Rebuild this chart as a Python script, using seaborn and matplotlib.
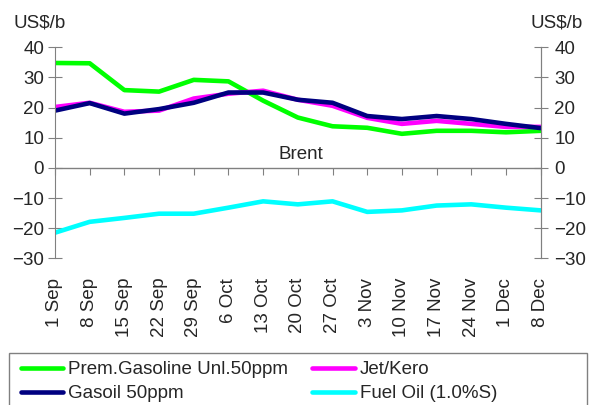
import pandas as pd
import seaborn as sns
import matplotlib.pyplot as plt
from matplotlib.patches import Rectangle

dates = ['1 Sep', '8 Sep', '15 Sep', '22 Sep', '29 Sep', '6 Oct', '13 Oct', '20 Oct',
         '27 Oct', '3 Nov', '10 Nov', '17 Nov', '24 Nov', '1 Dec', '8 Dec']
gasoline = [34.8, 34.7, 25.8, 25.3, 29.2, 28.7, 22.3, 16.7, 13.8, 13.3, 11.3, 12.3, 12.3, 11.8, 12.3]
jet_kero = [20.2, 21.6, 18.6, 19.0, 23.0, 24.6, 25.6, 22.6, 20.6, 16.6, 14.6, 15.6, 14.6, 13.6, 13.6]
gasoil = [19.0, 21.5, 18.0, 19.5, 21.6, 25.0, 25.0, 22.6, 21.6, 17.2, 16.2, 17.2, 16.2, 14.6, 13.2]
fuel_oil = [-21.5, -17.9, -16.6, -15.2, -15.2, -13.2, -11.1, -12.1, -11.1, -14.6, -14.1, -12.5, -12.1, -13.2, -14.1]

names = ['Prem.Gasoline Unl.50ppm', 'Jet/Kero', 'Gasoil 50ppm', 'Fuel Oil (1.0%S)']
colors = ['#00ff00', '#ff00ff', '#000080', '#00ffff']

rows = []
for name, vals in zip(names, [gasoline, jet_kero, gasoil, fuel_oil]):
    for i, v in enumerate(vals):
        rows.append({'x': i, 'value': v, 'product': name})
df = pd.DataFrame(rows)

sns.set_style('white')
plt.rcParams['font.family'] = ['Liberation Sans', 'DejaVu Sans']
fs = 13.5
grey = '#808080'

fig = plt.figure(figsize=(5.92, 4.05), dpi=100)
ax = fig.add_axes([0.0929, 0.3622, 0.8204, 0.521])

sns.lineplot(data=df, x='x', y='value', hue='product', hue_order=names,
             palette=colors, linewidth=3.3, ax=ax, legend=True)

ax.set_xlim(0, len(dates) - 1)
ax.set_ylim(-30, 40)
ax.set_yticks(range(-30, 41, 10))
ax.set_xticks(range(len(dates)))
ax.set_xticklabels(dates, rotation=90, fontsize=fs)
ax.set_xlabel('')
ax.set_ylabel('')
ax.tick_params(axis='x', length=0, pad=14)
ax.tick_params(axis='y', direction='inout', length=9.6, color=grey, labelsize=fs, pad=3)
for s in ['top', 'bottom']:
    ax.spines[s].set_visible(False)
for s in ['left', 'right']:
    ax.spines[s].set_color(grey)

# zero line with its tick marks
ax.axhline(0, color=grey, linewidth=1, zorder=1)
sec = ax.secondary_xaxis(30 / 70)
sec.set_xticks(range(len(dates)))
sec.tick_params(axis='x', direction='out', length=5, color=grey, labelbottom=False)
sec.spines['bottom'].set_visible(False)

ax2 = ax.twinx()
ax2.set_ylim(-30, 40)
ax2.set_yticks(range(-30, 41, 10))
ax2.tick_params(axis='y', direction='inout', length=9.6, color=grey, labelsize=fs, pad=5)
for s in ['top', 'bottom', 'left']:
    ax2.spines[s].set_visible(False)
ax2.spines['right'].set_color(grey)

ax.text(7.1, 4.5, 'Brent', ha='center', va='center', fontsize=fs)
fig.text(0.022, 0.944, 'US$/b', ha='left', va='center', fontsize=fs)
fig.text(0.985, 0.944, 'US$/b', ha='right', va='center', fontsize=fs)

handles, labels = ax.get_legend_handles_labels()
order = [0, 2, 1, 3]
leg = ax.legend([handles[i] for i in order], [labels[i] for i in order], ncol=2,
                loc='upper left', bbox_to_anchor=(0.035, 0.1086),
                bbox_transform=fig.transFigure, borderaxespad=0, borderpad=0,
                fontsize=fs, frameon=False,
                handlelength=2.27, handletextpad=0.27, labelspacing=0.37,
                columnspacing=1.26)
for line in leg.get_lines():
    line.set_linewidth(3.3)
fig.patches.append(Rectangle((8.5 / 592, -0.05), 578.5 / 592, 0.05 + 52.3 / 405,
                             transform=fig.transFigure, fill=False,
                             edgecolor=grey, linewidth=1))

fig.savefig('out.png', dpi=100)
